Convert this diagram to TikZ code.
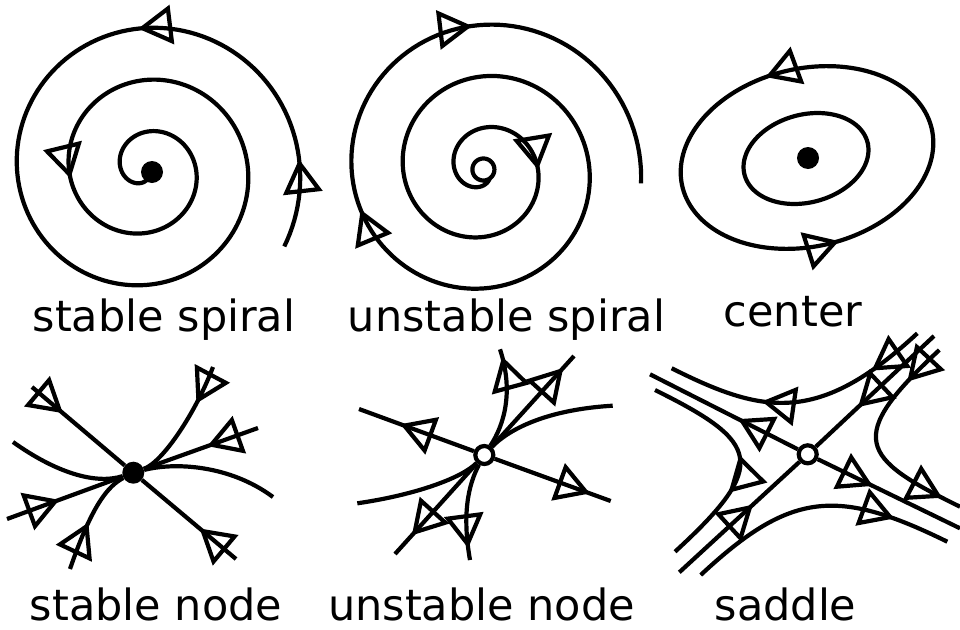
\documentclass[tikz,border=0pt]{standalone}
\usepackage{fontspec}
\setmainfont{DejaVu Sans}
\usetikzlibrary{arrows.meta, decorations.markings}

\begin{document}
\begin{tikzpicture}[
    x=1pt, y=-1pt,
    flow/.style={line width=4.2pt},
    tipat/.style={postaction={decorate, decoration={markings,
        mark=at position #1 with {\arrow{Triangle[open, length=34pt, width=39pt]}}}}},
    fixedpt/.style={circle, fill=black, inner sep=0pt, minimum size=22pt},
    openpt/.style={circle, draw, line width=4.2pt, fill=white, inner sep=0pt, minimum size=18pt},
    caption/.style={font=\fontsize{43pt}{50pt}\selectfont, anchor=base, inner sep=0pt}
]
    \useasboundingbox (0,0) rectangle (960,629);

    % stable spiral
    \draw[flow, tipat=0.0587, tipat=0.2093, tipat=0.7729]
        plot[domain=-29:1000, samples=400] ({145.5+(154.5-0.1444*\x)*cos(\x)}, {169.5-(154.5-0.1444*\x)*sin(\x)});
    \node[fixedpt] (ssdot) at (152,172) {};

    % unstable spiral
    \draw[flow, tipat=0.1557, tipat=0.681, tipat=0.8357]
        plot[domain=-300:1085, samples=500] ({483.4+max(11,3.1+0.143*\x)*cos(\x)}, {169.5+max(11,3.1+0.143*\x)*sin(\x)});

    % center
    \node[fixedpt] (cdot) at (808,158) {};
    \draw[flow, shift={(806,158.5)}, rotate=15]
        plot[domain=0:360, samples=120] ({63.6*cos(\x)}, {-43.9*sin(\x)}) -- cycle;
    \draw[flow, tipat=0.2825, tipat=0.768, shift={(807,157.5)}, rotate=13]
        plot[domain=0:360, samples=150] ({128*cos(\x)}, {-89*sin(\x)}) -- cycle;

    % stable node
    \node[fixedpt] (sndot) at (133.3,472.7) {};
    \coordinate (sn1) at (32,387);
    \coordinate (sn2) at (236,559);
    \coordinate (sn3) at (7,519);
    \coordinate (sn4) at (258,428);
    \coordinate (sn5) at (13,442);
    \coordinate (sn6) at (273,497);
    \coordinate (sn7) at (213,367);
    \coordinate (sn8) at (70,569);
    \draw[flow, tipat=40.5pt] (sn1) -- (sndot);
    \draw[flow, tipat=47.5pt] (sn2) -- (sndot);
    \draw[flow, tipat=55.7pt] (sn3) -- (sndot);
    \draw[flow, tipat=53.8pt] (sn4) -- (sndot);
    \draw[flow] (sn5) .. controls (55,472) and (95,485) .. (sndot);
    \draw[flow] (sndot) .. controls (175,462) and (230,465) .. (sn6);
    \draw[flow, tipat=40pt] (sn7) .. controls (196,412) and (163,462) .. (sndot);
    \draw[flow, tipat=50pt] (sn8) .. controls (92,505) and (108,486) .. (sndot);

    % unstable node
    \node[openpt] (undot) at (484.3,455) {};
    \coordinate (un1) at (359,409);
    \coordinate (un2) at (610.7,501);
    \coordinate (un3) at (395,554);
    \coordinate (un4) at (574,356);
    \coordinate (un5) at (357.3,503.3);
    \coordinate (un6) at (612.7,405.7);
    \coordinate (un7) at (500,349.3);
    \coordinate (un8) at (470,560);
    \draw[flow, tipat=-44pt] (undot) -- (un1);
    \draw[flow, tipat=-22pt] (undot) -- (un2);
    \draw[flow, tipat=-25pt] (undot) -- (un3);
    \draw[flow, tipat=-16pt] (undot) -- (un4);
    \draw[flow] (un5) .. controls (415,495) and (462,478) .. (undot);
    \draw[flow] (undot) .. controls (505,433) and (540,410) .. (un6);
    \draw[flow, tipat=-7.5pt] (undot) .. controls (504,425) and (514,392) .. (un7);
    \draw[flow, tipat=-12pt] (undot) .. controls (468,485) and (462,515) .. (un8);

    % saddle
    \node[openpt] (sddot) at (807.7,454.3) {};
    \coordinate (sd1) at (650,374.3);
    \coordinate (sd2) at (960,528.3);
    \coordinate (sd3) at (679.3,572.3);
    \coordinate (sd4) at (934,336);
    \coordinate (sd5) at (917.3,333.3);
    \coordinate (sd6) at (671.7,368.3);
    \coordinate (sd7) at (675,551.7);
    \coordinate (sd8) at (655,390);
    \coordinate (sd9) at (700.7,575);
    \coordinate (sd10) at (947.3,541.7);
    \coordinate (sd11) at (939.3,350);
    \coordinate (sd12) at (960,506.7);
    \draw[flow, tipat=-99pt] (sddot) -- (sd1);
    \draw[flow, tipat=-97pt] (sddot) -- (sd2);
    \draw[flow, tipat=100pt] (sd3) -- (sddot);
    \draw[flow, tipat=104pt] (sd4) -- (sddot);
    \draw[flow, tipat=59pt, tipat=176pt] (sd5) .. controls (817.3,426.3) and (761.7,413.3) .. (sd6);
    \draw[flow, tipat=121pt] (sd7) .. controls (770,464.7) and (760,442) .. (sd8);
    \draw[flow, tipat=-58pt] (sd9) .. controls (790.7,491) and (837.3,487.7) .. (sd10);
    \draw[flow, tipat=45pt, tipat=-20pt] (sd11) .. controls (844.3,438) and (860,457.7) .. (sd12);

    \node[caption] (lblss) at (164,331) {stable spiral};
    \node[caption] (lblus) at (506.5,331) {unstable spiral};
    \node[caption] (lblc) at (793,326) {center};
    \node[caption] (lblsn) at (156,620) {stable node};
    \node[caption] (lblun) at (481.5,620) {unstable node};
    \node[caption] (lblsd) at (785.5,620) {saddle};
\end{tikzpicture}
\end{document}
